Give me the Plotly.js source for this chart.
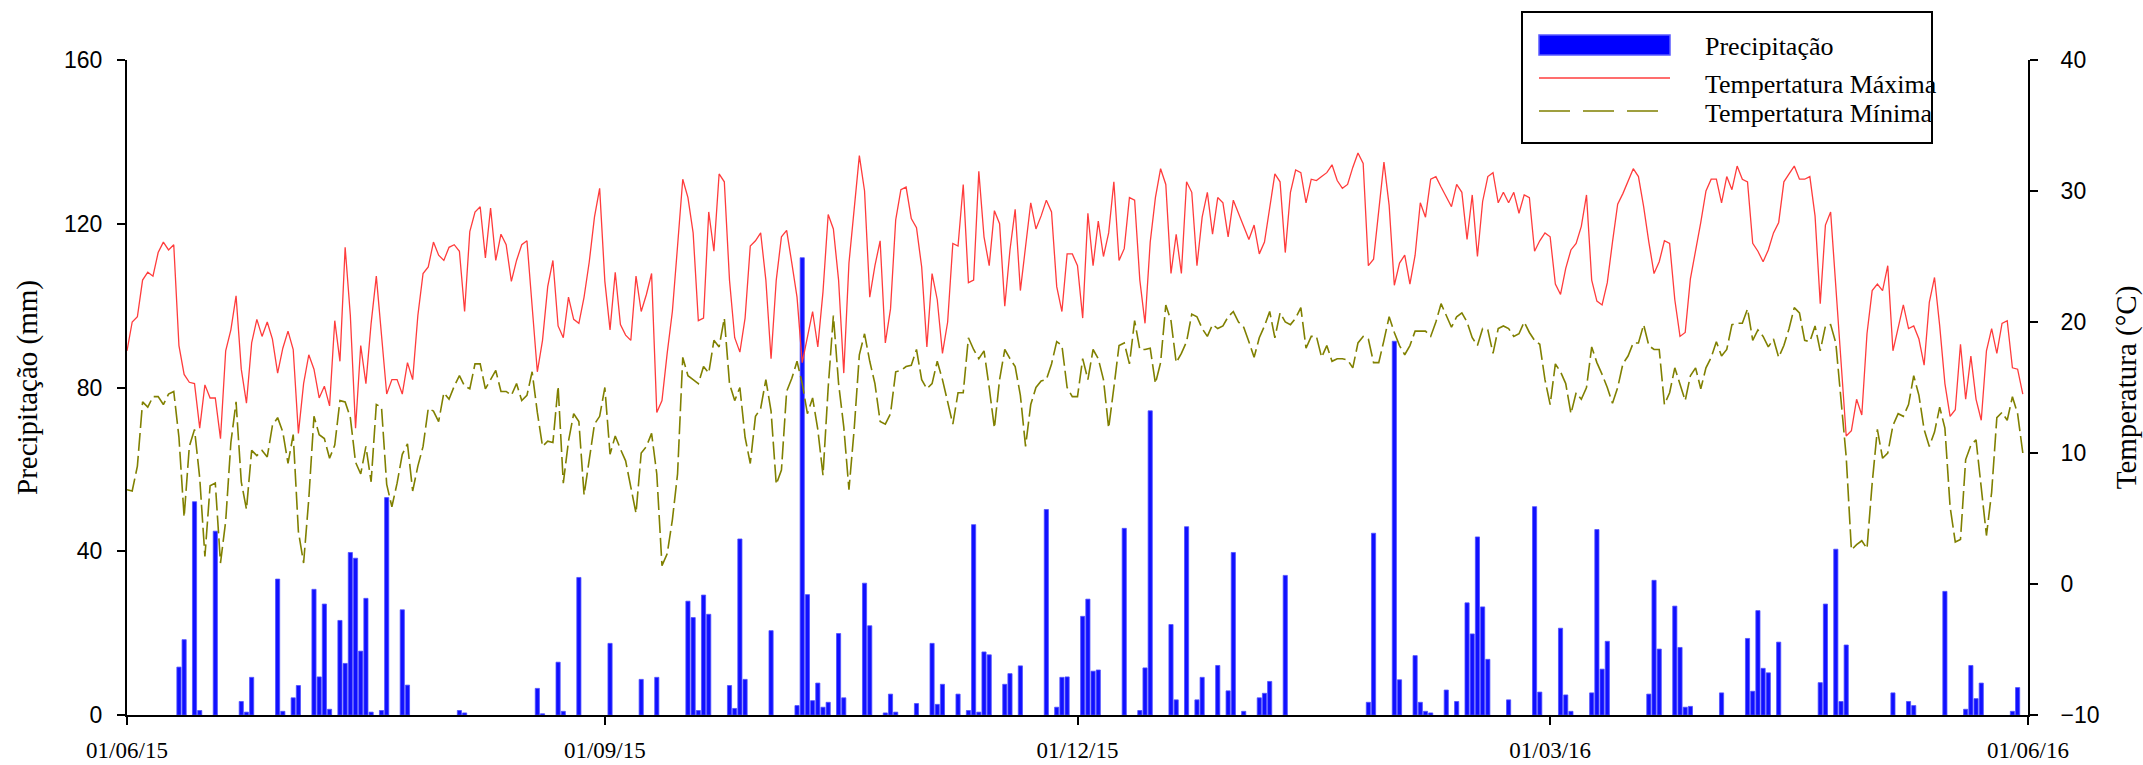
<!DOCTYPE html>
<html>
<head>
<meta charset="utf-8">
<script src="https://cdn.plot.ly/plotly-3.0.1.min.js"></script>
<style>html,body{margin:0;padding:0;background:#fff;}#chart{width:2143px;height:765px;}</style>
</head>
<body>
<div id="chart"></div>
<script>
// ---------- DATA ----------
const startDate = '2015-06-01';
const tickDates = ['2015-06-01','2015-09-01','2015-12-01','2016-03-01','2016-06-01'];
const tickLabels = ['01/06/15','01/09/15','01/12/15','01/03/16','01/06/16'];

// Daily maximum temperature (°C), 01/06/15 .. 31/05/16
const tempMax = [
17.8,20.0,20.4,23.2,23.8,23.5,25.3,26.1,25.5,25.9,
18.2,16.0,15.4,15.3,11.9,15.2,14.2,14.2,11.1,17.8,
19.4,22.0,16.4,13.8,18.4,20.2,18.9,20.0,18.7,16.1,
18.0,19.3,17.9,11.5,15.3,17.5,16.4,14.2,15.1,13.6,
20.1,17.0,25.7,20.5,11.9,18.2,15.3,19.9,23.5,19.1,
14.5,15.6,15.6,14.5,16.9,15.6,20.5,23.7,24.2,26.1,
25.1,24.7,25.7,25.9,25.4,20.8,26.9,28.4,28.8,24.9,
28.7,24.7,26.7,25.9,23.1,24.7,25.9,26.2,21.3,16.2,
18.6,22.7,24.7,19.7,18.8,21.9,20.2,19.9,21.9,24.6,
28.0,30.2,23.1,19.4,23.8,19.8,19.0,18.6,23.5,20.8,
22.1,23.7,13.1,14.0,17.6,20.8,25.8,30.9,29.5,26.8,
20.1,20.3,28.4,25.4,31.3,30.7,23.2,18.8,17.7,20.3,
25.8,26.2,26.8,23.2,17.2,23.2,26.5,27.0,24.5,21.9,
16.9,18.9,20.8,18.1,22.3,28.2,27.1,23.2,16.1,24.5,
28.8,32.7,30.0,21.9,24.3,26.2,18.4,21.0,27.8,30.1,
30.3,27.9,27.2,24.2,18.1,23.7,21.7,17.6,20.0,26.0,
25.8,30.5,23.0,23.2,31.5,26.5,24.3,28.5,27.5,21.2,
25.5,28.6,22.4,25.9,29.1,27.1,28.1,29.3,28.4,22.7,
20.8,25.2,25.2,24.3,20.3,28.3,24.3,27.7,25.0,26.8,
30.7,24.7,25.6,29.5,29.3,23.2,19.9,26.1,29.5,31.7,
30.5,23.7,26.7,23.7,30.7,29.9,24.3,28.0,29.9,26.7,
29.5,29.1,26.5,29.3,28.3,27.2,26.3,27.4,25.2,26.1,
28.6,31.3,30.7,25.3,29.9,31.6,31.4,29.1,30.9,30.8,
31.1,31.4,32.0,30.8,30.2,30.5,31.8,32.9,32.1,24.3,
24.8,28.3,32.2,28.9,22.8,24.5,25.1,22.9,25.1,29.1,
28.0,30.9,31.1,30.3,29.6,28.8,30.5,29.9,26.3,29.7,
25.0,29.2,31.1,31.4,29.1,29.9,29.1,29.9,28.3,29.7,
29.5,25.4,26.2,26.8,26.5,22.9,22.1,24.1,25.5,26.0,
27.3,29.7,23.2,21.6,21.3,23.0,26.1,29.0,29.8,30.8,
31.7,31.1,28.8,26.1,23.7,24.6,26.2,26.0,21.7,18.9,
19.2,23.3,25.4,27.6,30.0,30.9,30.9,29.1,31.1,30.1,
31.9,30.9,30.7,26.0,25.4,24.6,25.5,26.8,27.6,30.7,
31.3,31.9,30.9,30.9,31.1,28.1,21.4,27.4,28.4,22.9,
17.3,11.3,11.7,14.1,12.9,19.1,22.4,22.9,22.4,24.3,
17.8,19.5,21.3,19.5,19.7,18.7,16.7,21.5,23.4,19.7,
15.3,12.8,13.3,18.3,14.1,17.4,14.1,12.5,17.8,19.5,
17.6,19.9,20.1,16.5,16.4,14.5
];

// Daily minimum temperature (°C)
const tempMin = [
7.2,7.1,9.0,13.9,13.5,14.3,14.3,13.7,14.5,14.7,
11.2,5.1,10.5,11.8,8.1,2.1,7.5,7.7,1.6,4.8,
10.8,13.9,7.8,5.7,10.2,9.8,10.2,9.7,12.1,12.7,
11.6,9.2,11.4,4.0,1.6,6.5,12.8,11.4,11.1,9.6,
10.6,14.0,13.9,12.7,9.3,8.4,10.5,7.8,13.7,13.5,
7.6,5.9,7.7,9.9,10.7,7.1,9.0,10.5,13.4,13.2,
12.4,14.6,14.1,15.1,15.9,15.1,14.9,16.8,16.8,14.9,
15.6,16.3,14.7,14.7,14.4,15.3,14.0,14.4,16.2,13.1,
10.5,10.9,10.8,15.1,7.7,10.9,13.0,12.4,6.8,9.7,
12.2,12.8,15.0,9.9,11.3,10.3,9.4,7.4,5.4,10.0,
10.5,11.5,8.4,1.4,2.3,4.9,8.4,17.3,15.9,15.6,
15.3,16.6,16.1,18.6,18.1,20.3,15.3,14.0,15.0,11.2,
9.2,12.8,13.4,15.6,13.2,7.6,8.7,14.7,15.7,17.0,
15.3,13.0,14.2,11.8,8.3,15.0,20.5,15.3,12.0,7.2,
11.8,17.5,19.1,17.0,15.3,12.4,12.2,13.0,16.2,16.3,
16.6,16.7,17.9,15.6,14.9,15.3,17.0,15.6,14.0,12.2,
14.6,14.6,18.8,17.9,17.2,17.8,15.0,11.9,15.6,17.9,
17.2,16.6,14.4,10.5,13.7,15.0,15.5,15.6,16.8,18.5,
18.2,15.0,14.3,14.3,17.2,15.6,17.9,17.2,15.6,11.9,
15.0,18.2,18.4,16.8,20.1,17.9,17.9,18.0,15.3,16.9,
21.3,20.1,16.9,17.6,18.5,20.6,20.4,19.5,18.9,19.8,
19.5,19.7,20.4,20.8,20.0,19.6,18.5,17.3,18.8,19.7,
20.8,18.8,20.7,20.0,19.8,20.3,21.1,18.0,18.9,18.9,
17.3,18.2,17.0,17.2,17.2,17.1,16.5,18.4,18.9,18.7,
16.9,16.9,18.6,20.4,19.2,18.2,17.5,18.2,19.3,19.3,
19.3,18.9,20.0,21.4,20.5,19.6,20.4,20.7,20.0,18.8,
18.2,19.5,19.4,17.6,19.5,19.7,19.5,18.9,19.1,20.0,
19.2,18.6,18.3,15.6,13.7,16.8,16.2,15.3,13.0,14.6,
14.1,15.0,18.1,16.9,16.0,15.0,13.8,15.0,16.8,17.4,
18.4,18.4,19.8,18.2,17.9,17.9,13.7,14.6,16.5,15.3,
14.0,15.9,16.5,14.9,16.5,17.3,18.5,17.4,17.9,19.8,
19.9,19.9,21.0,18.6,19.4,18.9,18.1,18.7,17.3,18.2,
19.5,21.1,20.7,18.6,18.5,19.7,17.8,19.7,19.8,18.4,
13.8,9.7,2.6,3.0,3.3,2.7,7.7,11.8,9.6,10.0,
12.1,13.0,12.8,13.7,15.9,14.4,11.8,10.5,11.6,13.5,
11.9,5.9,3.2,3.4,9.5,10.6,11.0,7.2,3.7,7.0,
12.7,13.1,12.5,14.3,13.0,10.0
];

// Precipitation (mm): day index from 01/06/15 and amount
const rainDay = [10,11,13,14,17,22,23,24,29,30,32,33,36,37,38,39,41,42,43,44,45,46,47,49,50,53,54,64,65,79,80,83,84,87,93,99,102,108,109,110,111,112,116,117,118,119,124,129,130,131,132,133,134,135,137,138,142,143,146,147,148,152,155,156,157,160,162,163,164,165,166,169,170,172,177,179,180,181,184,185,186,187,192,195,196,197,201,202,204,206,207,210,212,213,215,218,219,220,223,239,240,244,245,248,249,250,251,254,256,258,259,260,261,262,266,271,272,276,277,278,282,283,284,285,293,294,295,298,299,300,301,307,312,313,314,315,316,318,326,327,329,330,331,340,343,344,350,354,355,356,357,363,364];
const rainMm = [11.7,18.4,52.1,1.1,44.9,3.3,0.7,9.2,33.2,0.9,4.2,7.2,30.7,9.3,27.1,1.4,23.1,12.6,39.7,38.3,15.6,28.5,0.7,1.1,53.1,25.7,7.3,1.1,0.5,6.5,0.3,12.9,0.9,33.6,17.5,8.7,9.2,27.8,23.8,1.1,29.3,24.6,7.2,1.6,43.0,8.7,20.6,2.3,111.7,29.4,3.5,7.8,1.9,3.1,19.9,4.2,32.2,21.8,0.5,5.1,0.7,2.8,17.5,2.6,7.5,5.1,1.1,46.5,0.7,15.4,14.7,7.5,10.1,12.0,50.2,1.9,9.2,9.3,24.1,28.3,10.7,11.0,45.6,1.1,11.5,74.3,22.1,3.7,46.0,3.7,9.2,12.1,5.9,39.7,0.9,4.2,5.3,8.2,34.1,3.1,44.4,91.3,8.6,14.5,3.1,0.9,0.5,6.1,3.3,27.4,19.8,43.5,26.4,13.6,3.7,50.9,5.6,21.2,4.9,0.9,5.4,45.3,11.2,18.0,5.1,32.9,16.1,26.6,16.5,1.9,2.1,5.4,18.7,5.8,25.5,11.4,10.3,17.8,7.9,27.1,40.5,3.3,17.1,5.4,3.3,2.3,30.2,1.4,12.1,4.0,7.8,0.9,6.7];

const seriesNames = ['Precipitação','Tempertatura Máxima','Tempertatura Mínima'];

// ---------- HELPERS ----------
function dayToDate(i){
  const t = Date.UTC(2015,5,1) + i*86400000;
  return new Date(t).toISOString().slice(0,10);
}
const dates = tempMax.map((_,i)=>dayToDate(i));
const rainDates = rainDay.map(dayToDate);

const W = 2143, H = 765;
const L = 127, R = 2028, T = 60, B = 715;
const px = x => (x - L)/(R - L);
const py = y => (B - y)/(B - T);

const serif = 'Liberation Serif, Times New Roman, serif';
const sans = 'Liberation Sans, Arial, sans-serif';

const traces = [
  {type:'bar', x:rainDates, y:rainMm, name:seriesNames[0], yaxis:'y',
   marker:{color:'#1010ff', line:{color:'#5050ff', width:0.8}}, showlegend:false},
  {type:'scatter', mode:'lines', x:dates, y:tempMax, name:seriesNames[1], yaxis:'y2',
   line:{color:'#ff3c3c', width:1.3}, showlegend:false},
  {type:'scatter', mode:'lines', x:dates, y:tempMin, name:seriesNames[2], yaxis:'y2',
   line:{color:'#808000', width:1.6, dash:'18px,5px'}, showlegend:false}
];

const legendShapes = [
  {type:'rect', xref:'paper', yref:'paper', x0:px(1522), x1:px(1932), y0:py(143), y1:py(12),
   line:{color:'#000', width:2}, fillcolor:'#fff', layer:'above'},
  {type:'rect', xref:'paper', yref:'paper', x0:px(1539), x1:px(1670), y0:py(55), y1:py(35),
   line:{color:'#5a5aff', width:1.5}, fillcolor:'#0000ff', layer:'above'},
  {type:'line', xref:'paper', yref:'paper', x0:px(1539), x1:px(1670), y0:py(78), y1:py(78),
   line:{color:'#ff3c3c', width:1.3}, layer:'above'},
  {type:'line', xref:'paper', yref:'paper', x0:px(1539), x1:px(1658), y0:py(111), y1:py(111),
   line:{color:'#808000', width:1.6, dash:'31px,13px'}, layer:'above'}
];
const legendText = [47, 85, 114].map((yy,i)=>({
  xref:'paper', yref:'paper', x:px(1703), y:py(yy), xanchor:'left', yanchor:'middle',
  text:seriesNames[i], showarrow:false, font:{family:serif, size:26, color:'#000'}
}));

const layout = {
  width:W, height:H,
  margin:{l:L, r:W-R, t:T, b:H-B, pad:0},
  paper_bgcolor:'#fff', plot_bgcolor:'#fff',
  bargap:0.2,
  showlegend:false,
  xaxis:{
    type:'date', range:['2015-06-01','2016-06-01'],
    tickmode:'array', tickvals:tickDates, ticktext:tickLabels,
    ticks:'outside', ticklen:8, tickwidth:2, tickcolor:'#000',
    showline:true, linecolor:'#000', linewidth:2, showgrid:false, zeroline:false,
    tickfont:{family:serif, size:23, color:'#000'}, ticklabelstandoff:5
  },
  yaxis:{
    range:[0,160], tickvals:[0,40,80,120,160],
    ticks:'outside', ticklen:8, tickwidth:2, tickcolor:'#000',
    showline:true, linecolor:'#000', linewidth:2, showgrid:false, zeroline:false,
    tickfont:{family:sans, size:23, color:'#000'}, ticklabelstandoff:10,
    title:{text:'Precipitação (mm)', font:{family:serif, size:29, color:'#000'}, standoff:18}
  },
  yaxis2:{
    range:[-10,40], tickvals:[-10,0,10,20,30,40], overlaying:'y', side:'right',
    ticks:'outside', ticklen:8, tickwidth:2, tickcolor:'#000',
    showline:true, linecolor:'#000', linewidth:2, showgrid:false, zeroline:false,
    tickfont:{family:sans, size:23, color:'#000'}, ticklabelstandoff:18,
    title:{text:'Temperatura (°C)', font:{family:serif, size:29, color:'#000'}, standoff:18}
  },
  shapes:legendShapes,
  annotations:legendText
};

Plotly.newPlot('chart', traces, layout, {displayModeBar:false, staticPlot:true});
</script>
</body>
</html>
